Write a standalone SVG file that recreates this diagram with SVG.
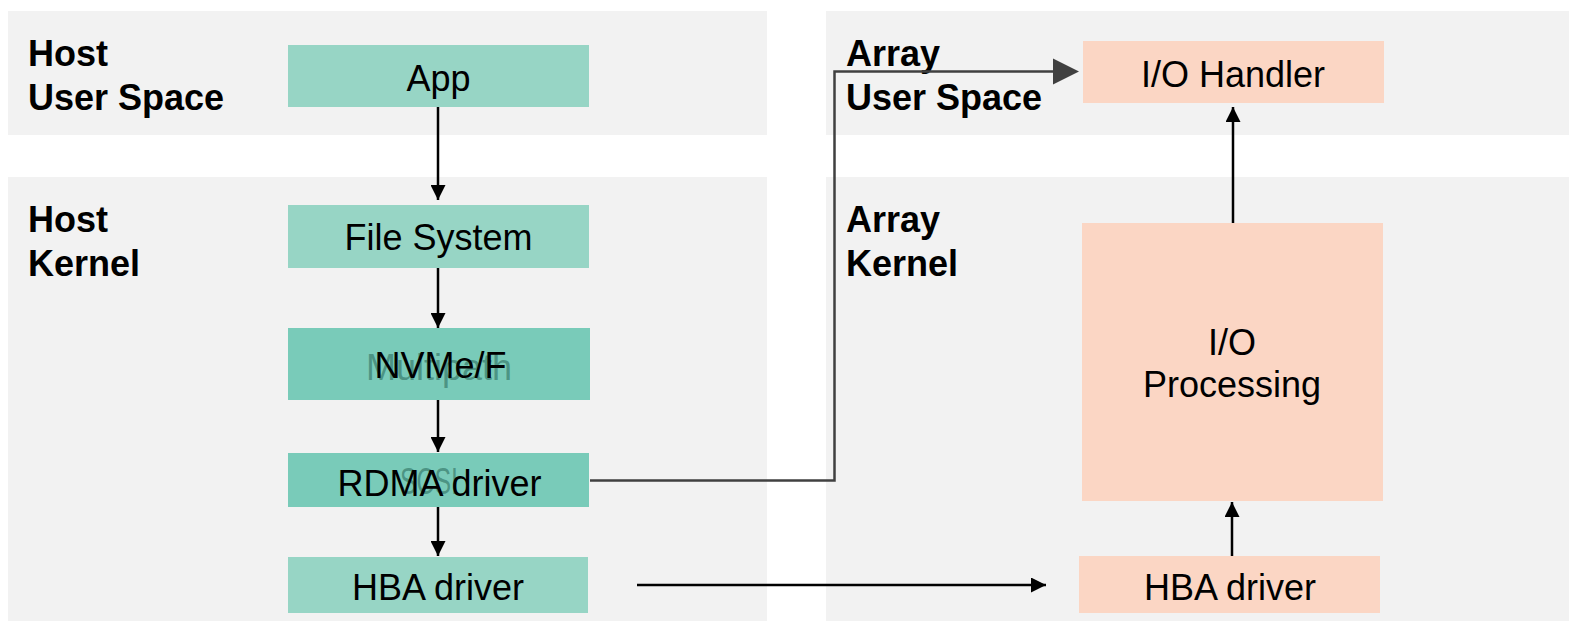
<svg xmlns="http://www.w3.org/2000/svg" width="1569" height="621" viewBox="0 0 1569 621">
<style>
.panel{fill:#f2f2f2}
.lbl{font-family:"Liberation Sans",Arial,sans-serif;font-weight:bold;font-size:36px;fill:#000}
.t{font-family:"Liberation Sans",Arial,sans-serif;font-size:36px;fill:#000;text-anchor:middle}
.ghost{font-family:"Liberation Sans",Arial,sans-serif;font-size:36px;fill:#2e6f60;fill-opacity:0.6;text-anchor:middle}
.teal{fill:#97d5c5}
.teal2{fill:#79cbb9}
.peach{fill:#fbd6c4}
.c{stroke:#000;stroke-width:2.5;fill:none}
</style>
<defs>
<marker id="ah" markerWidth="6" markerHeight="6" refX="6" refY="3" orient="auto" markerUnits="strokeWidth">
<path d="M0,0 L6,3 L0,6 Z" fill="#000"/>
</marker>
</defs>
<rect width="1569" height="621" fill="#fff"/>
<g id="panels">
<rect class="panel" x="8" y="11" width="759" height="124"/>
<rect class="panel" x="8" y="177" width="759" height="444"/>
<rect class="panel" x="826" y="11" width="743" height="124"/>
<rect class="panel" x="826" y="177" width="743" height="444"/>
<text class="lbl" x="28" y="66">Host</text>
<text class="lbl" x="28" y="110">User Space</text>
<text class="lbl" x="28" y="232">Host</text>
<text class="lbl" x="28" y="276">Kernel</text>
<text class="lbl" x="846" y="66">Array</text>
<text class="lbl" x="846" y="110">User Space</text>
<text class="lbl" x="846" y="232">Array</text>
<text class="lbl" x="846" y="276">Kernel</text>
</g>
<g id="app"><rect class="teal" x="288" y="45" width="301" height="62"/><text class="t" x="438.5" y="91">App</text></g>
<g id="fs"><rect class="teal" x="288" y="205" width="301" height="63"/><text class="t" x="438.5" y="250">File System</text></g>
<g id="nvmef"><rect class="teal2" x="288" y="328" width="302" height="72"/><text class="ghost" x="439" y="380">Multipath</text><text class="t" x="440.5" y="378">NVMe/F</text></g>
<g id="rdma"><rect class="teal2" x="288" y="453" width="301" height="54"/><text class="ghost" x="429" y="494" textLength="58" lengthAdjust="spacingAndGlyphs">SCSI</text><text class="t" x="439.5" y="496">RDMA driver</text></g>
<g id="hba-host"><rect class="teal" x="288" y="557" width="300" height="56"/><text class="t" x="438" y="600">HBA driver</text></g>
<g id="io-handler"><rect class="peach" x="1083" y="41" width="301" height="62"/><text class="t" x="1233" y="87">I/O Handler</text></g>
<g id="io-processing"><rect class="peach" x="1082" y="223" width="301" height="278"/><text class="t" x="1232" y="355">I/O</text><text class="t" x="1232" y="397">Processing</text></g>
<g id="hba-array"><rect class="peach" x="1079" y="556" width="301" height="57"/><text class="t" x="1230" y="600">HBA driver</text></g>
<g id="connectors">
<line class="c" x1="438" y1="107" x2="438" y2="200" marker-end="url(#ah)"/>
<line class="c" x1="438" y1="268" x2="438" y2="328" marker-end="url(#ah)"/>
<line class="c" x1="438" y1="400" x2="438" y2="452" marker-end="url(#ah)"/>
<line class="c" x1="438" y1="507" x2="438" y2="556" marker-end="url(#ah)"/>
<line class="c" x1="637" y1="585" x2="1046" y2="585" marker-end="url(#ah)"/>
<line class="c" x1="1232" y1="556" x2="1232" y2="502" marker-end="url(#ah)"/>
<line class="c" x1="1233" y1="223" x2="1233" y2="107" marker-end="url(#ah)"/>
<path d="M590,480.5 L834.5,480.5 L834.5,71.5 L1053,71.5" stroke="#404040" stroke-width="2.5" fill="none"/>
<path d="M1053,58.5 L1079,71.5 L1053,84.5 Z" fill="#404040"/>
</g>
</svg>
